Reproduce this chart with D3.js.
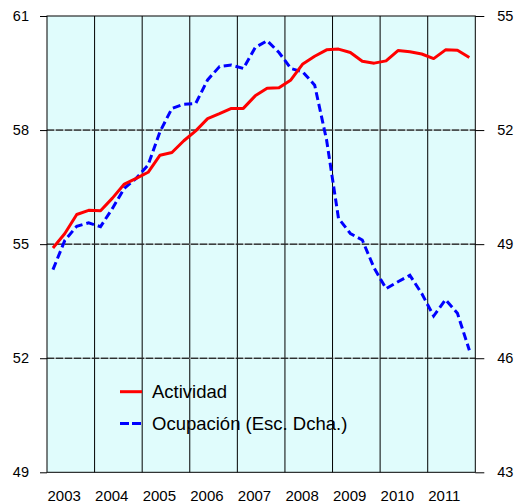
<!DOCTYPE html>
<html>
<head>
<meta charset="utf-8">
<script src="https://cdn.jsdelivr.net/npm/d3@7"></script>
<style>
  html, body { margin: 0; padding: 0; background: #fff; }
  svg text { font-family: "Liberation Sans", Arial, sans-serif; fill: #000; }
</style>
</head>
<body>
<svg id="chart" width="518" height="504"></svg>
<script>
// quarterly series, 2003Q1 .. 2011Q4
const years = [2003, 2004, 2005, 2006, 2007, 2008, 2009, 2010, 2011];
const actividad = [54.90, 55.28, 55.78, 55.89, 55.88, 56.21, 56.58, 56.73, 56.89, 57.34, 57.41, 57.72,
  57.98, 58.30, 58.43, 58.57, 58.57, 58.90, 59.10, 59.11, 59.32, 59.74, 59.94, 60.11,
  60.13, 60.04, 59.81, 59.76, 59.82, 60.09, 60.06, 60.00, 59.88, 60.11, 60.10, 59.91];
const ocupacion = [48.33, 49.10, 49.47, 49.56, 49.46, 49.94, 50.47, 50.73, 51.08, 51.96, 52.57, 52.68,
  52.70, 53.32, 53.67, 53.71, 53.62, 54.17, 54.35, 54.04, 53.62, 53.53, 53.18, 51.74,
  49.68, 49.28, 49.11, 48.37, 47.83, 48.01, 48.18, 47.70, 47.11, 47.54, 47.18, 46.21];
const leftTicks = [49, 52, 55, 58, 61];
const rightTicks = [43, 46, 49, 52, 55];
const seriesNames = ["Actividad", "Ocupación (Esc. Dcha.)"];

const svg = d3.select('#chart');
const pL = 47, pR = 475.3, pT = 16, pB = 472.3;

const x = d3.scaleLinear().domain([2003, 2012]).range([pL, pR]);
const yL = d3.scaleLinear().domain([49, 61]).range([pB, pT]);
const yR = d3.scaleLinear().domain([43, 55]).range([pB, pT]);
const qx = i => x(years[0] + (i + 0.5) / 4);

// plot background
svg.append('rect')
  .attr('x', pL).attr('y', pT)
  .attr('width', pR - pL).attr('height', pB - pT)
  .attr('fill', '#e0fcfc');

// vertical grid at year boundaries
svg.append('g').selectAll('line')
  .data(years.slice(1))
  .join('line')
  .attr('x1', d => x(d)).attr('x2', d => x(d))
  .attr('y1', pT).attr('y2', pB)
  .attr('stroke', '#000').attr('stroke-width', 1);

// horizontal grid
const hg = svg.append('g');
hg.selectAll('line.base')
  .data(leftTicks.slice(1, -1))
  .join('line')
  .attr('class', 'base')
  .attr('x1', pL).attr('x2', pR)
  .attr('y1', d => yL(d)).attr('y2', d => yL(d))
  .attr('stroke', '#888').attr('stroke-width', 1);
hg.selectAll('line.dash')
  .data(leftTicks.slice(1, -1))
  .join('line')
  .attr('class', 'dash')
  .attr('x1', pL).attr('x2', pR)
  .attr('y1', d => yL(d)).attr('y2', d => yL(d))
  .attr('stroke', '#000').attr('stroke-width', 1)
  .attr('stroke-dasharray', '7,2');

// frame
svg.append('rect')
  .attr('x', pL).attr('y', pT)
  .attr('width', pR - pL).attr('height', pB - pT)
  .attr('fill', 'none').attr('stroke', '#000').attr('stroke-width', 1);

// axes
const axL = svg.append('g')
  .attr('transform', `translate(${pL},0)`)
  .call(d3.axisLeft(yL).tickValues(leftTicks).tickSize(7).tickPadding(11).tickFormat(d3.format('d')));
const axR = svg.append('g')
  .attr('transform', `translate(${pR},0)`)
  .call(d3.axisRight(yR).tickValues(rightTicks).tickSize(9).tickPadding(13).tickFormat(d3.format('d')));
[axL, axR].forEach(ax => {
  ax.select('.domain').remove();
  ax.selectAll('line').attr('stroke', '#000');
  ax.selectAll('text').attr('font-size', '14.5px').attr('fill', '#000');
});

// year labels
svg.append('g').selectAll('text')
  .data(years)
  .join('text')
  .attr('x', d => x(d) + 0.5)
  .attr('y', 500.5)
  .attr('font-size', '15px')
  .text(d => d);

// series
const lineL = d3.line().x((d, i) => qx(i)).y(d => yL(d));
const lineR = d3.line().x((d, i) => qx(i)).y(d => yR(d));

svg.append('path')
  .attr('d', lineR(ocupacion))
  .attr('fill', 'none').attr('stroke', '#0000ff').attr('stroke-width', 3)
  .attr('stroke-dasharray', '8,4');

svg.append('path')
  .attr('d', lineL(actividad))
  .attr('fill', 'none').attr('stroke', '#ff0000').attr('stroke-width', 3)
  .attr('stroke-linejoin', 'round');

// legend
const lg = svg.append('g');
const legendRows = [
  { name: seriesNames[0], color: '#ff0000', dash: null, y: 391.7 },
  { name: seriesNames[1], color: '#0000ff', dash: '9,3', y: 423.5 }
];
legendRows.forEach(r => {
  lg.append('line')
    .attr('x1', 120).attr('x2', 142)
    .attr('y1', r.y).attr('y2', r.y)
    .attr('stroke', r.color).attr('stroke-width', 3)
    .attr('stroke-dasharray', r.dash);
  lg.append('text')
    .attr('x', 152).attr('y', r.y + 6.5)
    .attr('font-size', '18.5px')
    .text(r.name);
});
</script>
</body>
</html>
